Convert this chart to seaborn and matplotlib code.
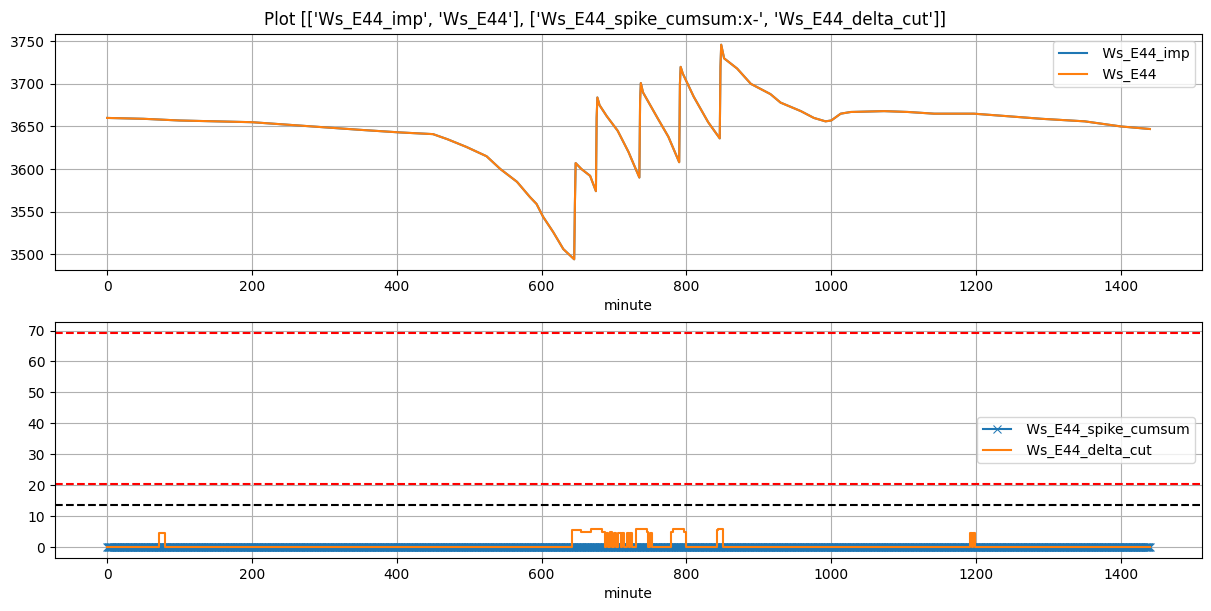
import numpy as np
import pandas as pd
import matplotlib
matplotlib.use("Agg")
import matplotlib.pyplot as plt
import seaborn as sns

# ---- data ----
ws_minutes = [0, 50, 100, 150, 200, 250, 300, 350, 404, 450, 470, 496, 524, 543, 566, 584,
              593, 602, 616, 630, 645, 646, 647, 655, 667, 675, 676, 677, 680, 690,
              705, 720, 735, 736, 737, 740, 760, 775, 790, 791, 792, 795, 810, 830, 846, 847,
              848, 852, 870, 889, 916, 930, 958, 976, 992, 1000, 1013, 1027, 1073, 1106, 1142,
              1197, 1244, 1290, 1350, 1400, 1440]
ws_values = [3660, 3659, 3657, 3656, 3655, 3652, 3649, 3646, 3643, 3641, 3635, 3626, 3615, 3600,
             3585, 3567, 3559, 3544, 3526, 3506, 3494, 3560, 3607, 3600, 3592, 3574,
             3660, 3684, 3675, 3662, 3645, 3620, 3590, 3680, 3701, 3690, 3660, 3638, 3608, 3700,
             3720, 3712, 3685, 3655, 3636, 3720, 3746, 3730, 3718, 3700, 3688, 3678, 3668, 3660,
             3656, 3657, 3665, 3667, 3668, 3667, 3665, 3665, 3662, 3659, 3656, 3650, 3647]
ws_imp_values = list(ws_values)

spike_minutes = np.arange(0, 1441)
spike_cumsum = np.zeros(1441)

delta_minutes = [0, 72, 80, 642, 655, 668, 683, 687, 689, 692, 694, 697, 700, 703, 705, 709,
                 711, 714, 718, 720, 722, 725, 731, 745, 747, 749, 752, 778, 781, 797, 800,
                 842, 844, 851, 1192, 1195, 1196, 1198, 1440]
delta_values = [0, 4.5, 0, 5.5, 5.0, 6.0, 5.0, 0, 4.5, 0, 4.8, 0, 4.5, 0, 4.5, 0,
                4.5, 0, 4.5, 0, 4.5, 0, 6.0, 5.0, 0, 4.5, 0, 5.0, 6.0, 5.0, 0,
                5.5, 6.0, 0, 4.5, 0, 4.5, 0, 0]

red_levels = [69.3, 20.6]
black_level = 13.8

title = "Plot [['Ws_E44_imp', 'Ws_E44'], ['Ws_E44_spike_cumsum:x-', 'Ws_E44_delta_cut']]"

# ---- plot ----
fig, (ax1, ax2) = plt.subplots(2, 1, figsize=(12.11, 6.11), dpi=100)
fig.subplots_adjust(left=0.0454, right=0.9926, top=0.9444, bottom=0.0867, hspace=0.22)
fig.suptitle(title, fontsize=12, y=0.982)

c0, c1 = "#1f77b4", "#ff7f0e"

sns.lineplot(x=ws_minutes, y=ws_imp_values, ax=ax1, color=c0, label=" Ws_E44_imp")
sns.lineplot(x=ws_minutes, y=ws_values, ax=ax1, color=c1, label=" Ws_E44")
ax1.grid(True)
ax1.set_xlabel("minute")
ax1.legend(loc="upper right")

sns.lineplot(x=spike_minutes, y=spike_cumsum, ax=ax2, color=c0, marker="x",
             markeredgecolor=c0, label=" Ws_E44_spike_cumsum")
sns.lineplot(x=delta_minutes, y=delta_values, ax=ax2, color=c1, drawstyle="steps-post",
             label=" Ws_E44_delta_cut")
for lv in red_levels:
    ax2.axhline(lv, color="r", linestyle="--")
ax2.axhline(black_level, color="k", linestyle="--")
ax2.grid(True)
ax2.set_xlabel("minute")
ax2.legend(loc="center right")

fig.savefig("out.png", dpi=100)
